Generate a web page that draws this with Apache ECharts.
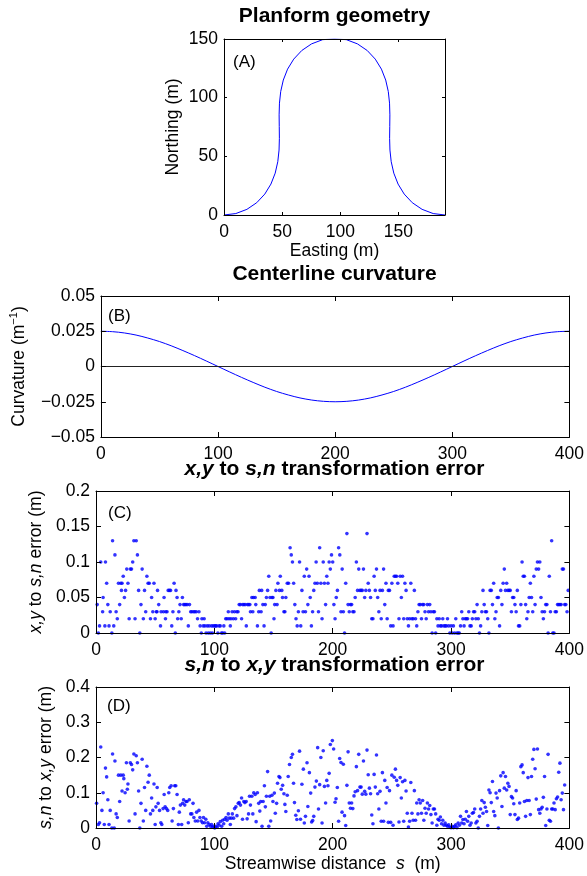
<!DOCTYPE html>
<html><head><meta charset="utf-8">
<script src="https://cdn.jsdelivr.net/npm/echarts/dist/echarts.min.js"></script>
<style>html,body{margin:0;padding:0;background:#fff}#c{width:587px;height:876px}</style>
</head><body><div id="c"></div>
<script>
// ---------- DATA ----------
// (A) planform centerline, Easting / Northing (m)
const planformX = [0,10.16,19.71,28.13,35.07,40.35,44.01,46.24,47.33,47.62,47.50,47.39,47.68,48.76,50.99,54.65,59.94,66.87,75.29,84.84,95.0,105.16,114.71,123.13,130.06,135.35,139.01,141.24,142.32,142.61,142.50,142.38,142.67,143.76,145.99,149.65,154.93,161.87,170.29,179.84,190];
const planformY = [0,1.23,4.83,10.49,17.82,26.36,35.67,45.42,55.35,65.34,75.34,85.34,95.33,105.26,115.01,124.32,132.86,140.19,145.85,149.45,150,149.45,145.85,140.19,132.86,124.32,115.01,105.26,95.33,85.34,75.34,65.34,55.35,45.42,35.67,26.36,17.82,10.49,4.83,1.23,0];
// (B) centerline curvature vs streamwise distance
const curvS = [0,10,20,30,40,50,60,70,80,90,100,110,120,130,140,150,160,170,180,190,200,210,220,230,240,250,260,270,280,290,300,310,320,330,340,350,360,370,380,390,400];
const curvK = [0.025,0.0247,0.0238,0.0223,0.0202,0.0177,0.0147,0.0113,0.0077,0.0039,0,-0.0039,-0.0077,-0.0113,-0.0147,-0.0177,-0.0202,-0.0223,-0.0238,-0.0247,-0.025,-0.0247,-0.0238,-0.0223,-0.0202,-0.0177,-0.0147,-0.0113,-0.0077,-0.0039,0,0.0039,0.0077,0.0113,0.0147,0.0177,0.0202,0.0223,0.0238,0.0247,0.025];
// (C) x,y -> s,n transformation error [s, error]
const xyToSnError = [[1,.04],[2,0],[3,.01],[4,.10],[5.6,.03],[6,.05],[7.5,.01],[8,.10],[9,.07],[10,.04],[11,.01],[12,.03],[13.4,0],[14,.13],[15,.01],[16,.11],[17,.03],[18,.02],[19,.07],[20,.04],[21,.07],[21.5,.06],[22,.07],[23,.08],[24,.05],[25,.06],[26,.09],[27,.07],[28,.02],[29,.09],[30,.09],[31,.10],[32,.13],[33,.02],[34,.13],[35,.11],[36,.06],[37,0],[38,.04],[39,.09],[40,.02],[41,.06],[42,.03],[43,.08],[44,.07],[45,.07],[46,.02],[47,.05],[48,.03],[49,.07],[50,.02],[51,.03],[51.5,.03],[52,.06],[53,.04],[54.5,.01],[55,.03],[57,.03],[57.5,.05],[58.7,.02],[59,.03],[60,.03],[61,.06],[62,.06],[63,.06],[64,.01],[65,.03],[66,.07],[67,0],[67.6,.06],[68.5,.05],[69,.02],[70,.03],[71,.04],[72,.02],[73,.05],[74,.04],[75,.04],[76,.04],[77,.04],[78,.01],[79,.04],[80,.03],[81,.03],[82.5,.03],[83.5,.03],[84.7,.03],[85.8,.02],[87,.03],[88,.01],[89,0],[89.5,.02],[90.6,.01],[91.4,.02],[92,.01],[93,0],[94,.01],[95,0],[95.6,.01],[96.7,0],[97.6,.01],[98.4,0],[99,.01],[100.3,.01],[101,.01],[102,.01],[103,0],[104,.01],[105,.01],[106,0],[107,0],[108,.01],[108.7,0],[109.6,.02],[110.7,.02],[111.8,.03],[112.4,.02],[113.5,.01],[114,.02],[115,.03],[116,.02],[117,.03],[118,.02],[119,.03],[120,.03],[121,.04],[122,.04],[123,.02],[124,.04],[125,.04],[126,.04],[127,.01],[128,.04],[129,.04],[130,.04],[130.5,.03],[131.7,.05],[132.5,.03],[133,.05],[134.5,.05],[135,.04],[136.4,.01],[137.5,.03],[138,.06],[139.5,.03],[140,.06],[141,.04],[142,.01],[143,.04],[144,.05],[145,.06],[146,.08],[147,.05],[148,0],[148.7,.05],[149.5,.05],[150.4,.02],[151,.04],[152,.06],[153,.04],[153.7,.07],[155,.06],[155.7,.08],[157,.06],[157.6,.05],[158.8,.03],[159.6,.03],[160.4,.05],[161.6,.07],[162.7,.07],
[164,.12],[165,.11],[166,.10],[167,.07],[168,.04],[169,.02],[170,.01],[171,.03],[172,.10],[173,.01],[174,.06],[175,.03],[176,.08],[177,.03],[178,.09],[179,.04],[180,.08],[181,.05],[182,.01],[183,.03],[184,.06],[185,.07],[186,.10],[187,.07],[188,.03],[189,.12],[190,.07],[191,.02],[192,.10],[193,.07],[194,.04],[195,.08],[196,.07],[197,.10],[198,.09],[199,.11],[200,.10],[201,.04],[202,.02],[203,.05],[204,.06],[205,.12],[206,.11],[207,.03],[208,.09],[209,.03],[210,0],[211,.07],[212,.14],[213,.04],[214,.03],[215,.04],[216,.04],[217,.03],[218,.03],[219,.05],[220,.10],[221,.06],[222,.09],[223,.06],[224,.06],[225,.06],[226,.09],[227,.05],[228,.06],[229,.14],[230,.07],[231,.06],[232,.05],[233,.02],[234,.02],[235,.08],[236,.06],[237,.09],[238,.05],[239,.03],[240,.06],[241,.02],[242,.06],[243,.09],[244,.04],[245,.07],[246,.02],[247,.06],[248,.06],[249,.01],[250,.07],[251,.01],[252,.08],[253,.08],[254,.08],[255,.07],[256,.02],[257,.08],[258,.05],[259,.08],[260,.02],[261,.07],[262,.06],[263,.02],[264,.01],[265,.02],[266,.07],[267,.02],[268,.02],[269,.06],[270,.02],[271,.01],[272,.03],[273,.04],[274,.04],[275,.02],[276,.04],[277,.04],[278,.03],[279,.02],[280,.04],[281,.03],[282,.04],[283,.03],[284,0],[285,.03],[286,.03],[287,0],[288,.02],[289,.01],[290,.02],[291,.01],[292,.01],[293,.02],[294,.01],[295,.01],[296,.01],[297,.02],[298,.01],[299,0],[300,.01],[301,0],[302,.01],[303,0],[304,.02],[305,0],[306,0],[307,0],[308,.01],[309,.03],[310,.02],[311,.01],[312,.02],[313,.02],[314,.02],[315,.03],[316,.01],[317,.01],[318,.02],[319,.03],[320,.03],[321,.02],[322,.04],[323,.02],[324,0],[325,.01],[326,.03],[327,.06],[328,.04],[329,.03],[330,.03],[331,.02],[332,0],[333,.06],[334,.06],[335,.04],[336,.07],[337,.02],[338,.03],[339,.05],[340,.05],[341,.01],[342,.06],[343,.04],[344,.07],[345,.09],[346,.06],[347,.07],[348,.06],[349,.06],[350,.06],[351,.03],[352,.05],[353,.05],[354,.04],[355,.03],[356,.06],[357,.01],[358,.01],[359,.04],[360,.10],[361,.08],[362,.08],[363,.04],[364,.02],[365,.03],[366,.05],[367,.07],[368,.05],[369,.03],[370,.08],[371,.04],[372,.09],[373,.10],[374,.09],[375,.10],[376,.05],[377,.03],[378,.02],[379,.03],[380,.04],[381,.04],[382,0],[383,.08],[384,.03],[385,.13],[386,0],[387,0],[388,.03],[389,.03],[390,.04],[391,.04],[392,.04],[393,.04],[394,.09],[395,.09],[396,.04],[397,.04],[398,.03],[399,.06]];
// (D) s,n -> x,y transformation error [s, error]
const snToXyError = [[0.5,0.07],[2,0.01],[3,0.015],[4,0.23],[5,0.05],[6,0.1],[7,0.01],[8,0.17],[9,0.145],[10,0.08],[11,0.01],[12,0.05],[13.4,0],[14,0.21],[15.4,0],[16,0.19],[17,0.04],[18,0.03],[19,0.15],[20,0.075],[21,0.15],[22,0.105],[23,0.15],[23.5,0.14],[24.6,0.1],[25.7,0.185],[26.5,0.11],[27,0.125],[28,0.02],[29,0.185],[30,0.18],[31,0.165],[32,0.21],[33,0.04],[34,0.205],[35,0.185],[36,0.105],[37,0],[38,0.07],[39,0.195],[40,0.02],[41,0.115],[42,0.05],[43,0.175],[44,0.13],[45,0.15],[46,0.04],[47,0.085],[48,0.05],[49,0.125],[50,0.01],[50.6,0.06],[51.7,0.115],[52.5,0.07],[53.7,0.05],[54.8,0.015],[55.6,0.01],[56.7,0.055],[57.6,0.095],[58.4,0.06],[59.5,0.055],[60.6,0.05],[61.5,0.1],[62.3,0.115],[63.5,0.12],[64.3,0.02],[65.4,0.055],[66.5,0.12],[67.4,0.12],[68.5,0.095],[69.6,0.01],[70.4,0.045],[71.3,0.065],[72.4,0.01],[73.2,0.07],[74,0.08],[75,0.065],[76,0.075],[76.9,0.075],[78,0.015],[78.8,0.08],[80,0.04],[81,0.04],[82,0.07],[82.7,0.03],[83.9,0.02],[85,0.045],[86,0.02],[87,0.05],[87.8,0.03],[88.9,0.02],[90,0.015],[90.8,0.03],[91.7,0.015],[92.8,0.025],[93.6,0.005],[94.5,0.015],[95.6,0.01],[96.7,0.005],[97.6,0.01],[98.4,0.003],[99.5,0.005],[100.3,0],[101.2,0.005],[102.3,0.002],[103.1,0.012],[104,0.008],[105,0.018],[106.2,0.005],[107,0.022],[107.9,0.012],[108.7,0.025],[109.9,0.03],[110.7,0.022],[111.8,0.04],[112.6,0.028],[113.5,0.01],[114.3,0.028],[115.2,0.04],[116.3,0.028],[117.1,0.055],[118.2,0.06],[119.1,0.035],[120.2,0.07],[121,0.072],[122.1,0.065],[123,0.085],[123.8,0.025],[124.9,0.075],[125.8,0.072],[126.9,0.075],[127.7,0.026],[128.9,0.04],[129.7,0.09],[130.5,0.065],[131.7,0.09],[132.5,0.04],[133.3,0.1],[134.5,0.095],[135.3,0.018],[136.4,0.1],[137.5,0.07],[138.4,0.048],[139.2,0.075],[140.3,0.005],[141.2,0.075],[142.3,0.12],[143.1,0.06],[144,0.09],[145,0.16],[146,0.005],[146.8,0.09],[147.6,0.02],[148.7,0.093],[149.5,0.075],[150.7,0.099],[151.5,0.042],[152.6,0.07],[153.4,0.127],[154.6,0.146],[155.4,0.143],[156.5,0.11],[157.7,0.121],[158.8,0.097],[159.6,0.067],[160.4,0.047],[161.6,0.093],[162.4,0.146],
[163.5,0.18],[165,0.2],[166,0.209],[166.9,0.127],[167.7,0.072],[168.8,0.036],[169.7,0.024],[171,0.049],[172,0.218],[172.8,0.025],[174,0.124],[175.2,0.167],[176,0.014],[177,0.033],[178.3,0.185],[179,0.061],[180.3,0.157],[181.4,0.099],[182.2,0.017],[183.1,0.021],[184,0.033],[185,0.116],[186.2,0.133],[187.3,0.228],[188,0.054],[189,0.123],[190,0.2],[191,0.014],[192,0.219],[193,0.118],[194,0.071],[195,0.135],[196,0.12],[197,0.155],[198,0.237],[199.7,0.248],[200.8,0.224],[202,0.073],[202.8,0.083],[203.9,0.115],[205,0.019],[205.9,0.197],[207,0.186],[207.9,0.045],[209,0.181],[210,0.035],[211,0.007],[212,0.121],[213,0.216],[214,0.071],[215,0.056],[216,0.071],[217,0.055],[218,0.091],[219,0.103],[220,0.174],[221,0.106],[222,0.209],[223,0.116],[224,0.116],[225,0.096],[226,0.19],[227,0.104],[228,0.096],[229,0.221],[230,0.151],[231,0.113],[232,0.097],[233,0.037],[234,0.012],[235,0.152],[236,0.116],[237,0.207],[238,0.097],[239,0.054],[240,0.104],[241,0.019],[242,0.157],[243,0.019],[244,0.135],[245,0.071],[246,0.115],[247,0.016],[248,0.106],[249,0.016],[250,0.15],[251,0.008],[252,0.144],[253,0.167],[254,0.135],[255,0.121],[256,0.017],[257,0.143],[258,0.085],[259,0.131],[260,0.019],[261,0.135],[262,0.105],[263,0.042],[264,0.003],[265,0.019],[266,0.129],[267,0.042],[268,0.022],[269,0.106],[270,0.022],[271,0.071],[272,0.04],[273,0.08],[274,0.071],[275,0.042],[276,0.078],[277,0.022],[278,0.056],[279,0.042],[280,0.071],[281,0.054],[282,0.064],[283,0.038],[284,0.014],[285,0.054],[286,0.054],[287,0.04],[288,0.008],[289,0.025],[290,0.022],[291,0.031],[292,0.012],[293,0.022],[294,0.008],[295,0.014],[296,0.008],[297,0.005],[298,0.009],[299,0.003],[300,0.001],[301,0.005],[302,0.001],[303,0.005],[304,0.009],[305,0.001],[306,0.014],[307,0.008],[308,0.033],[309,0.014],[310,0.024],[311,0.012],[312,0.025],[313,0.047],[314,0.019],[315,0.033],[316,0.008],[317,0.014],[318,0.042],[319,0.044],[320,0.054],[321,0.014],[322,0.019],[323,0],[324,0.033],[325,0.054],[326,0.078],[327,0.042],[328,0.072],[329,0.059],[330,0.047],[331,0.007],[332,0.108],[333,0.1],[334,0.072],[335,0.132],[336,0.047],[337,0.035],[338,0.099],[339,0.085],[340,0],[341,0.106],[342,0.148],[343,0.061],[344,0.157],[345,0.113],[346,0.146],[347,0.108],[348,0.127],[349,0.118],[350,0.038],[351,0.089],[352,0.085],[353,0.069],[354,0.038],[355,0.106],[356,0.024],[357,0.028],[358,0.071],[359,0.174],[360,0.179],[361,0.157],[362,0.075],[363,0.033],[364,0.078],[365,0.143],[366,0.078],[367,0.038],[368,0.146],[369,0.195],[370,0.223],[371,0.168],[372,0.082],[373,0.224],[374,0.052],[375,0.042],[376,0.054],[377,0.059],[378,0.087],[379,0.146],[380,0.007],[381,0.054],[382,0.209],[383,0.022],[384,0.019],[385,0.054],[386,0.054],[387,0.071],[388,0.052],[389,0.083],[390,0.088],[391,0.158],[392,0.184],[393,0.08],[394,0.099],[395,0.052],[396,0.122]];
// tick settings
const xTicksA = {min: 0, max: 190, interval: 50};
const yTicksA = {min: 0, max: 150, interval: 50};
const sTicks = {min: 0, max: 400, interval: 100};
const yTicksB = {min: -0.05, max: 0.05, interval: 0.025};
const yTicksC = {min: 0, max: 0.2, interval: 0.05};
const yTicksD = {min: 0, max: 0.4, interval: 0.1};

// ---------- CHART ----------
const FONT = "'Liberation Sans', Arial, Helvetica, sans-serif";
const BLK = '#000';
const BLUE = '#0000ff';
const FS = 17.5;

function fmt(v) {
  const r = Math.round(v * 10000) / 10000;
  return (r < 0 ? '\u2212' : '') + String(Math.abs(r));
}
function axis(gridIndex, ticks, position, labels, tickLen, extra) {
  return Object.assign({
    type: 'value', gridIndex, position,
    min: ticks.min, max: ticks.max, interval: ticks.interval,
    axisLine: {show: true, onZero: false, lineStyle: {color: BLK, width: 1}},
    axisTick: {show: true, inside: true, length: tickLen, lineStyle: {color: BLK, width: 1}},
    splitLine: {show: false},
    axisLabel: {show: labels, color: BLK, fontSize: FS, fontFamily: FONT,
      margin: (position === 'left' || position === 'right') ? 6 : 8, formatter: fmt,
      showMinLabel: true},
    nameTextStyle: {color: BLK, fontSize: FS, fontFamily: FONT},
    z: 5
  }, extra || {});
}
const ital = {fontStyle: 'italic', fontSize: FS, fontFamily: FONT, color: BLK};

const option = {
  animation: false,
  backgroundColor: '#fff',
  grid: [
    {left: 224, top: 39, width: 221, height: 176},
    {left: 96, top: 296, width: 477, height: 141},
    {left: 96, top: 491, width: 477, height: 142},
    {left: 96, top: 687, width: 477, height: 141}
  ],
  xAxis: [
    axis(0, xTicksA, 'bottom', true, 3, {name: 'Easting (m)', nameLocation: 'middle', nameGap: 25,
      axisLabel: {show: true, color: BLK, fontSize: FS, fontFamily: FONT, margin: 8, formatter: fmt, showMaxLabel: false}}),
    axis(0, xTicksA, 'top', false, 3),
    axis(1, sTicks, 'bottom', true, 5),
    axis(1, sTicks, 'top', false, 5),
    axis(2, sTicks, 'bottom', true, 5),
    axis(2, sTicks, 'top', false, 5),
    axis(3, sTicks, 'bottom', true, 5, {name: 'Streamwise distance  {i|s}  (m)', nameLocation: 'middle', nameGap: 25,
      nameTextStyle: {color: BLK, fontSize: FS, fontFamily: FONT, rich: {i: ital}}}),
    axis(3, sTicks, 'top', false, 5)
  ],
  yAxis: [
    axis(0, yTicksA, 'left', true, 3, {name: 'Northing (m)', nameLocation: 'middle', nameGap: 42, nameRotate: 90}),
    axis(0, yTicksA, 'right', false, 3),
    axis(1, yTicksB, 'left', true, 5, {name: 'Curvature (m{sup|\u22121})', nameLocation: 'middle', nameGap: 67, nameRotate: 90,
      nameTextStyle: {color: BLK, fontSize: FS, fontFamily: FONT, lineHeight: 22,
        rich: {sup: {fontSize: 11, fontFamily: FONT, color: BLK, verticalAlign: 'top', lineHeight: 22}}}}),
    axis(1, yTicksB, 'right', false, 5),
    axis(2, yTicksC, 'left', true, 5, {name: '{i|x,y} to {i|s,n} error (m)', nameLocation: 'middle', nameGap: 44, nameRotate: 90,
      nameTextStyle: {color: BLK, fontSize: FS, fontFamily: FONT, rich: {i: ital}}}),
    axis(2, yTicksC, 'right', false, 5),
    axis(3, yTicksD, 'left', true, 5, {name: '{i|s,n} to {i|x,y} error (m)', nameLocation: 'middle', nameGap: 34, nameRotate: 90,
      nameTextStyle: {color: BLK, fontSize: FS, fontFamily: FONT, rich: {i: ital}}}),
    axis(3, yTicksD, 'right', false, 5)
  ],
  series: [
    {name: 'planform', type: 'line', xAxisIndex: 0, yAxisIndex: 0, showSymbol: false, symbol: 'none',
      data: planformX.map((x, i) => [x, planformY[i]]),
      lineStyle: {color: BLUE, width: 1}, z: 3},
    {name: 'curvature', type: 'line', xAxisIndex: 2, yAxisIndex: 2, showSymbol: false, symbol: 'none',
      data: curvS.map((s, i) => [s, curvK[i]]), smooth: 0.3,
      lineStyle: {color: BLUE, width: 1}, z: 3,
      markLine: {silent: true, symbol: 'none', label: {show: false},
        lineStyle: {color: '#222', width: 1, type: 'solid'}, data: [{yAxis: 0}]}},
    {name: 'xy2sn', type: 'scatter', xAxisIndex: 4, yAxisIndex: 4, data: xyToSnError,
      symbol: 'circle', symbolSize: 3.6, itemStyle: {color: BLUE}, z: 3},
    {name: 'sn2xy', type: 'scatter', xAxisIndex: 6, yAxisIndex: 6, data: snToXyError,
      symbol: 'circle', symbolSize: 3.6, itemStyle: {color: BLUE}, z: 3}
  ],
  graphic: [
    titleText('Planform geometry', 334.5, 16),
    titleText('Centerline curvature', 334.5, 274),
    titleText('{bi|x,y} to {bi|s,n} transformation error', 334.5, 469),
    titleText('{bi|s,n} to {bi|x,y} transformation error', 334.5, 665),
    panelText('(A)', 233, 62),
    panelText('(B)', 108, 316),
    panelText('(C)', 108, 513),
    panelText('(D)', 107, 706)
  ]
};
function titleText(t, x, y) {
  return {type: 'text', x, y, z: 10, style: {text: t, fill: BLK, fontSize: 21, fontWeight: 'bold', fontFamily: FONT,
    align: 'center', verticalAlign: 'middle', textAlign: 'center', textVerticalAlign: 'middle',
    rich: {bi: {fontSize: 21, fontWeight: 'bold', fontStyle: 'italic', fontFamily: FONT, fill: BLK, color: BLK}}}};
}
function panelText(t, x, y) {
  return {type: 'text', x, y, z: 10, style: {text: t, fill: BLK, fontSize: 17, fontFamily: FONT,
    align: 'left', verticalAlign: 'middle', textAlign: 'left', textVerticalAlign: 'middle'}};
}
const chart = echarts.init(document.getElementById('c'), null, {renderer: 'canvas'});
chart.setOption(option);
</script></body></html>
